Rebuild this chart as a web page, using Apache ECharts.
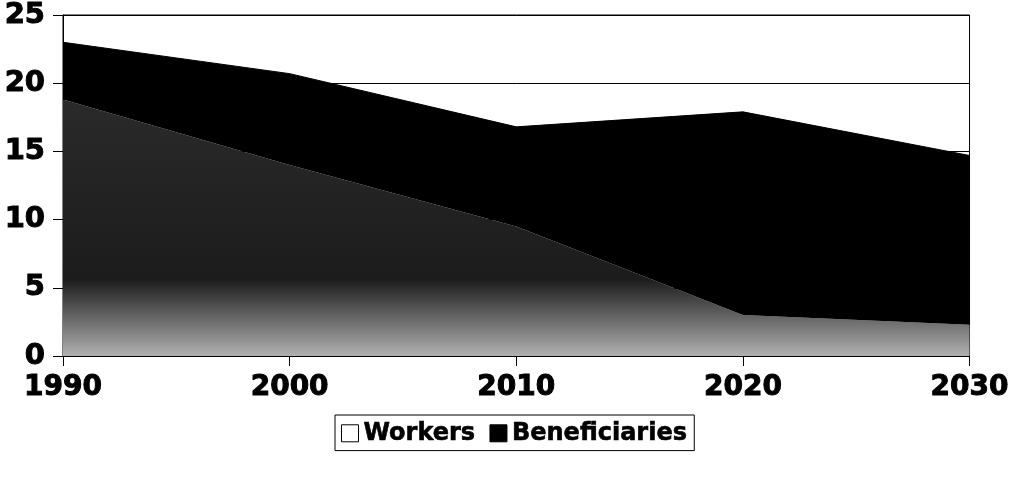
<!DOCTYPE html>
<html>
<head>
<meta charset="utf-8">
<script src="https://cdn.jsdelivr.net/npm/echarts@6/dist/echarts.min.js"></script>
<style>
html,body{margin:0;padding:0;background:#fff;}
#chart{width:1012px;height:479px;}
</style>
</head>
<body>
<div id="chart"></div>
<script>
const years = ['1990', '2000', '2010', '2020', '2030'];
const workers = [18.8, 14.0, 9.5, 3.0, 2.3];
const beneficiaries = [4.2, 6.7, 7.3, 14.9, 12.4];
const yTicks = [0, 5, 10, 15, 20, 25];

const FONT = '"DejaVu Sans", Verdana, sans-serif';
const chart = echarts.init(document.getElementById('chart'), null, {renderer: 'canvas'});
chart.setOption({
  animation: false,
  backgroundColor: '#fff',
  grid: {left: 63, right: 40, top: 15, bottom: 123, show: true, borderColor: '#000', borderWidth: 1, backgroundColor: 'transparent'},
  legend: {
    top: 415,
    left: 335,
    orient: 'horizontal',
    borderColor: '#000',
    borderWidth: 1,
    padding: [6, 7, 5, 6],
    itemGap: 14,
    itemWidth: 17,
    itemHeight: 17,
    icon: 'rect',
    textStyle: {fontFamily: FONT, fontWeight: 'bold', fontSize: 24, color: '#000', textBorderColor: '#000', textBorderWidth: 0.6},
    data: [
      {name: 'Workers', itemStyle: {color: '#fff', borderColor: '#000', borderWidth: 1}},
      {name: 'Beneficiaries', itemStyle: {color: '#000', borderColor: '#000', borderWidth: 1}}
    ]
  },
  xAxis: {
    type: 'category',
    data: years,
    boundaryGap: false,
    axisLine: {lineStyle: {color: '#000', width: 1}},
    axisTick: {show: true, length: 10, lineStyle: {color: '#000'}},
    axisLabel: {fontFamily: FONT, fontWeight: 'bold', fontSize: 28, color: '#000', margin: 18, textBorderColor: '#000', textBorderWidth: 1},
    splitLine: {show: false}
  },
  yAxis: {
    type: 'value',
    min: yTicks[0],
    max: yTicks[yTicks.length - 1],
    interval: 5,
    axisLine: {show: true, lineStyle: {color: '#000', width: 1}},
    axisTick: {show: true, length: 10, lineStyle: {color: '#000'}},
    axisLabel: {fontFamily: FONT, fontWeight: 'bold', fontSize: 29, color: '#000', margin: 18, textBorderColor: '#000', textBorderWidth: 1},
    splitLine: {show: true, lineStyle: {color: '#000', width: 1}}
  },
  series: [
    {
      name: 'Workers',
      type: 'line',
      stack: 'total',
      data: workers,
      symbol: 'none',
      lineStyle: {width: 0},
      itemStyle: {color: '#fff'},
      areaStyle: {
        opacity: 1,
        color: new echarts.graphic.LinearGradient(0, 0, 0, 1, [
          {offset: 0, color: '#2a2a2a'},
          {offset: 0.7, color: '#1c1c1c'},
          {offset: 1, color: '#b0b0b0'}
        ])
      }
    },
    {
      name: 'Beneficiaries',
      type: 'line',
      stack: 'total',
      data: beneficiaries,
      symbol: 'none',
      lineStyle: {width: 1, color: '#000'},
      itemStyle: {color: '#000'},
      areaStyle: {opacity: 1, color: '#000'}
    }
  ]
});
</script>
</body>
</html>
